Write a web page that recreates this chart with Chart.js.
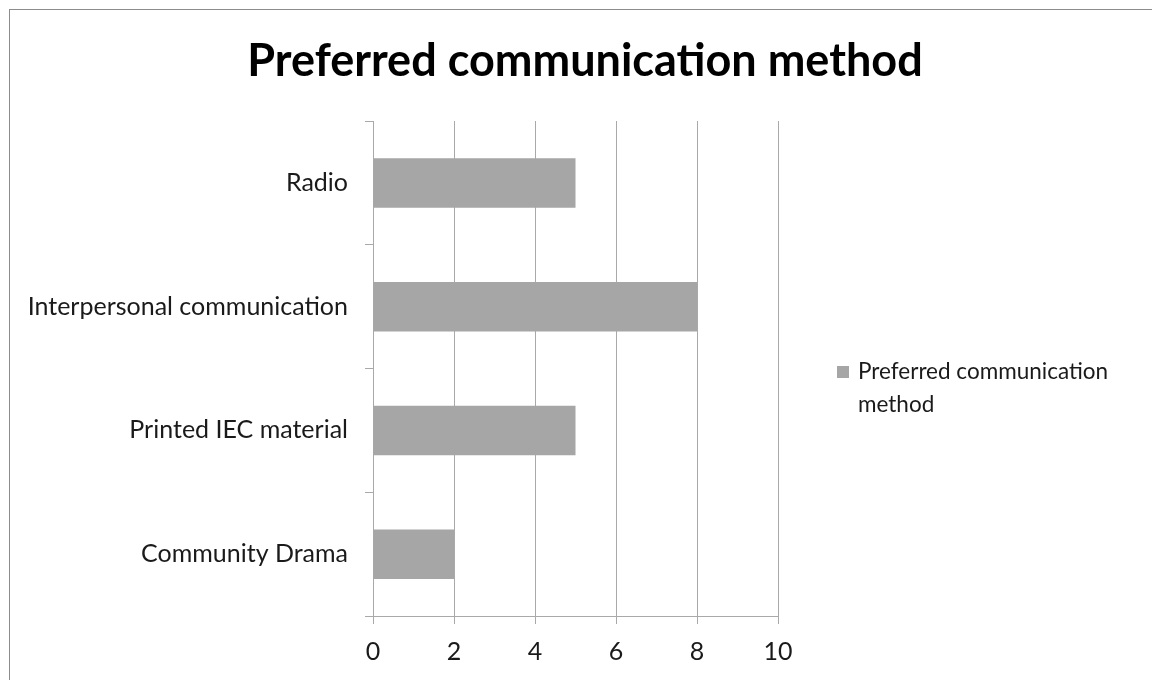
<!DOCTYPE html>
<html>
<head>
<meta charset="utf-8">
<script src="https://cdn.jsdelivr.net/npm/chart.js"></script>
<style>
  body { margin: 0; background: #fff; }
  #wrap { position: relative; width: 1152px; height: 680px; overflow: hidden; }
  #frame { position: absolute; left: 9px; top: 9px; width: 1200px; height: 700px;
           border-left: 1px solid #8c8c8c; border-top: 1px solid #8c8c8c; }
  canvas { position: absolute; left: 0; top: 0; }
</style>
</head>
<body>
<div id="wrap">
  <div id="frame"></div>
  <canvas id="c" width="1152" height="680"></canvas>
</div>
<script>
var chartTitle = 'Preferred communication method';
var categories = ['Radio', 'Interpersonal communication', 'Printed IEC material', 'Community Drama'];
var seriesName = 'Preferred communication method';
var seriesValues = [5, 8, 5, 2];
var xTicks = [0, 2, 4, 6, 8, 10];

var FONT = 'Lato, "Open Sans", sans-serif';
var barColor = '#a6a6a6';
var lineColor = '#a9a9a9';

// title + legend drawn by hand, the way Excel lays them out
var excelBits = {
    id: 'excelBits',
    afterDraw: function (chart) {
        var ctx = chart.ctx;
        ctx.save();
        ctx.fillStyle = '#000';
        ctx.font = 'bold 45px ' + FONT;
        ctx.textAlign = 'center';
        ctx.textBaseline = 'alphabetic';
        ctx.fillText(chartTitle, 585, 76);

        var ds = chart.data.datasets[0];
        ctx.fillStyle = ds.backgroundColor;
        ctx.fillRect(837, 366, 12, 12);
        ctx.fillStyle = '#1a1a1a';
        ctx.font = '22.5px ' + FONT;
        ctx.textAlign = 'left';
        var words = ds.label.split(' ');
        ctx.fillText(words.slice(0, 2).join(' '), 858, 379);
        ctx.fillText(words.slice(2).join(' '), 858, 412);
        ctx.restore();
    }
};

var data = {
    labels: categories,
    datasets: [{
        label: seriesName,
        data: seriesValues,
        backgroundColor: barColor,
        borderWidth: 0,
        barPercentage: 0.4,
        categoryPercentage: 1.0
    }]
};

var myChart = new Chart(document.getElementById('c').getContext('2d'), {
    type: 'bar',
    data: data,
    plugins: [excelBits],
    options: {
        indexAxis: 'y',
        responsive: false,
        animation: false,
        layout: { padding: { left: 0, right: 374, top: 121, bottom: 0 } },
        plugins: {
            legend: { display: false },
            title: { display: false },
            tooltip: { enabled: false }
        },
        scales: {
            x: {
                min: 0,
                max: 10,
                afterBuildTicks: function (scale) {
                    scale.ticks = xTicks.map(function (v) { return { value: v }; });
                },
                afterFit: function (scale) { scale.height = 64; },
                grid: { color: lineColor, tickLength: 8, drawTicks: true },
                border: { color: lineColor },
                ticks: {
                    color: '#1a1a1a',
                    font: { family: FONT, size: 25 },
                    padding: 13,
                    maxRotation: 0
                }
            },
            y: {
                afterFit: function (scale) { scale.width = 373; },
                grid: { drawOnChartArea: false, color: lineColor, tickLength: 8, offset: true },
                border: { color: lineColor },
                ticks: {
                    color: '#1a1a1a',
                    font: { family: FONT, size: 25 },
                    padding: 17
                }
            }
        }
    }
});
</script>
</body>
</html>
